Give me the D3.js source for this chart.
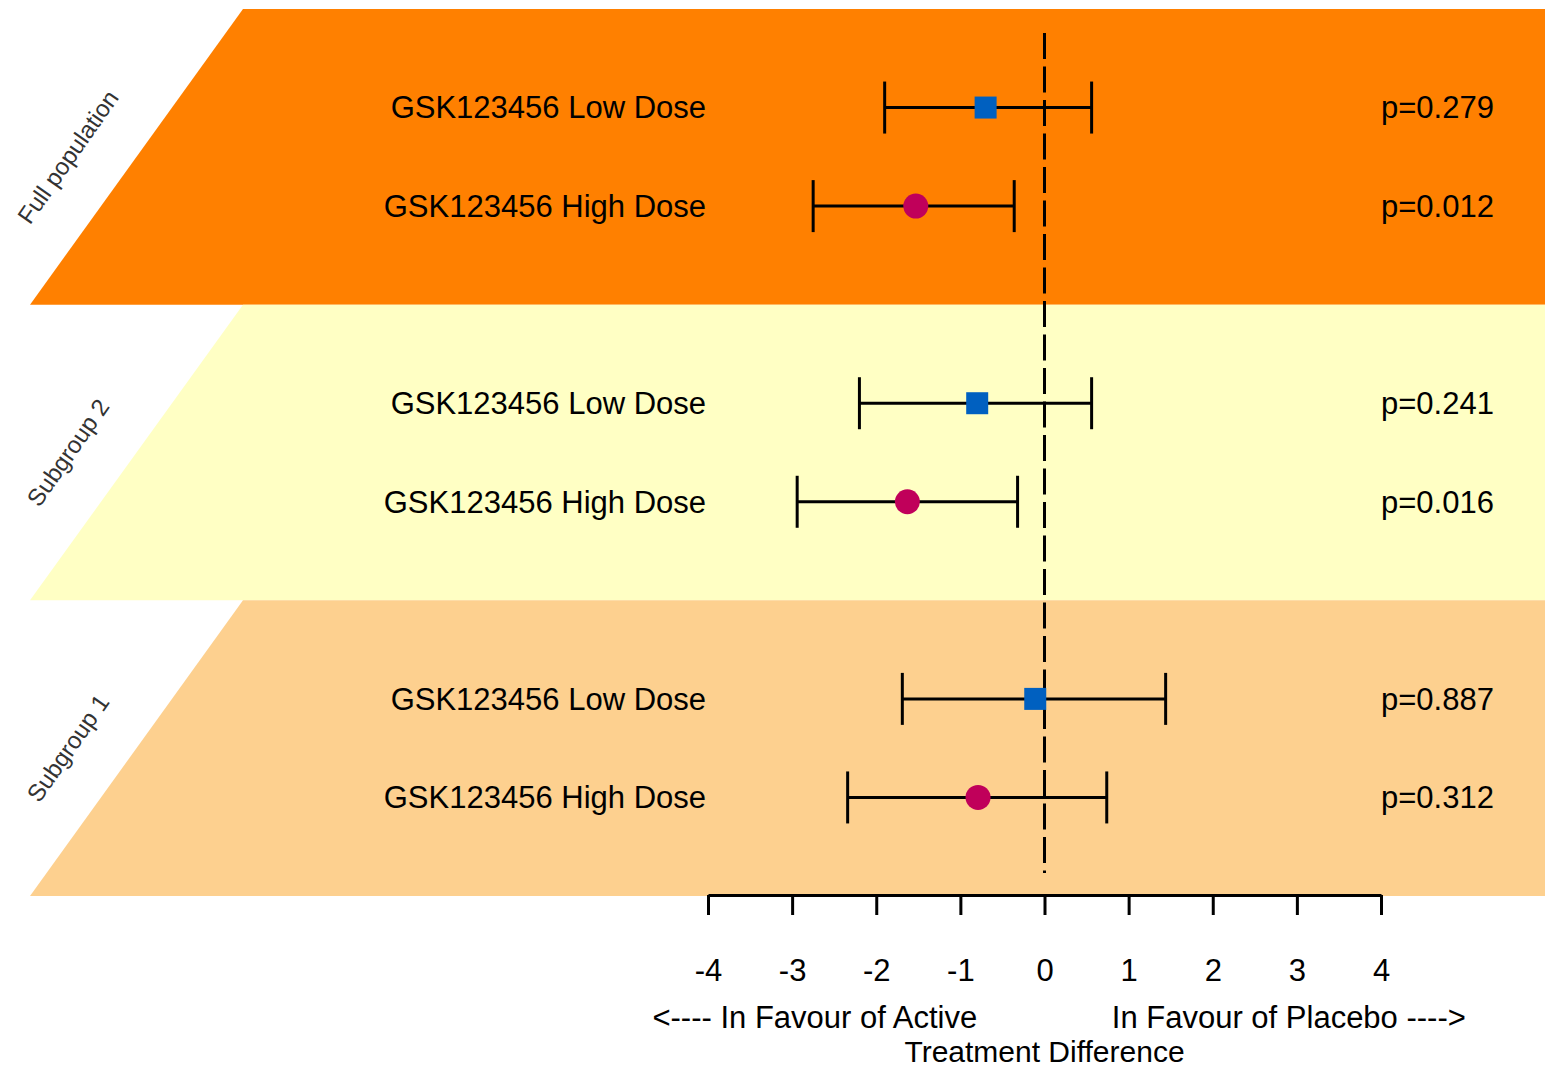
<!DOCTYPE html>
<html>
<head>
<meta charset="utf-8">
<script src="https://cdn.jsdelivr.net/npm/d3@7"></script>
<style>
  body { margin: 0; background: #fff; }
  text { font-family: "Liberation Sans", Arial, sans-serif; }
</style>
</head>
<body>
<div id="chart"></div>
<script>
// Data
var groups = ["Full population", "Subgroup 2", "Subgroup 1"];
var treatments = ["GSK123456 Low Dose", "GSK123456 High Dose"];
var groupColors = ["#FF8000", "#FFFFC4", "#FDD08F"];

// one entry per group x treatment, in the order above
var estimate = [-0.70, -1.53, -0.80, -1.63, -0.11, -0.79];
var lower    = [-1.90, -2.75, -2.20, -2.94, -1.69, -2.34];
var upper    = [ 0.56, -0.36,  0.56, -0.32,  1.44,  0.74];
var pValues  = ["p=0.279", "p=0.012", "p=0.241", "p=0.016", "p=0.887", "p=0.312"];

var tickValues = [-4, -3, -2, -1, 0, 1, 2, 3, 4];

var width = 1545, height = 1067;

var svg = d3.select("#chart").append("svg")
    .attr("width", width)
    .attr("height", height);

var x = d3.scaleLinear().domain([-4, 4]).range([708, 1381]);
var y = d3.scaleBand().domain(groups).range([9, 896]);
var slant = 213; // horizontal shift of the band's left edge over its height

// rows
var rows = [];
groups.forEach(function(g, gi) {
    treatments.forEach(function(t, ti) {
        var k = gi * treatments.length + ti;
        rows.push({
            group: g, treatment: t, type: ti,
            est: estimate[k], lo: lower[k], hi: upper[k], p: pValues[k],
            y: y(g) + y.bandwidth() * (ti + 1) / (treatments.length + 1)
        });
    });
});

// Group bands (parallelograms on the left)
var band = svg.append("g").selectAll("g")
    .data(groups)
  .enter().append("g");

band.append("path")
    .attr("d", function(d) {
        var top = y(d), bot = y(d) + y.bandwidth();
        return "M" + (30 + slant) + "," + top + "L" + width + "," + top +
               "L" + width + "," + bot + "L30," + bot + "Z";
    })
    .style("fill", function(d, i) { return groupColors[i]; });

band.append("text")
    .attr("transform", function(d) {
        return "translate(68," + (y(d) + y.bandwidth() / 2) + ") rotate(-55)";
    })
    .attr("text-anchor", "middle")
    .attr("dy", "0.35em")
    .style("font-size", "24px")
    .style("fill", "#333")
    .text(function(d) { return d; });

// Reference line at zero
svg.append("line")
    .attr("x1", x(0)).attr("x2", x(0))
    .attr("y1", 33).attr("y2", 873)
    .style("stroke", "#000")
    .style("stroke-width", 3)
    .style("stroke-dasharray", "26,7.5");

// Error bars
var row = svg.append("g").selectAll("g")
    .data(rows)
  .enter().append("g");

row.append("line")
    .attr("x1", function(d) { return x(d.lo); })
    .attr("x2", function(d) { return x(d.hi); })
    .attr("y1", function(d) { return d.y; })
    .attr("y2", function(d) { return d.y; })
    .style("stroke", "#000").style("stroke-width", 3);

row.selectAll(".cap")
    .data(function(d) { return [{v: d.lo, y: d.y}, {v: d.hi, y: d.y}]; })
  .enter().append("line")
    .attr("class", "cap")
    .attr("x1", function(d) { return x(d.v); })
    .attr("x2", function(d) { return x(d.v); })
    .attr("y1", function(d) { return d.y - 26; })
    .attr("y2", function(d) { return d.y + 26; })
    .style("stroke", "#000").style("stroke-width", 3);

row.filter(function(d) { return d.type === 0; }).append("rect")
    .attr("x", function(d) { return x(d.est) - 11; })
    .attr("y", function(d) { return d.y - 11; })
    .attr("width", 22).attr("height", 22)
    .style("fill", "#0060C0");

row.filter(function(d) { return d.type === 1; }).append("circle")
    .attr("cx", function(d) { return x(d.est); })
    .attr("cy", function(d) { return d.y; })
    .attr("r", 12.5)
    .style("fill", "#C0005A");

row.append("text")
    .attr("x", 706)
    .attr("y", function(d) { return d.y; })
    .attr("dy", "0.35em")
    .attr("text-anchor", "end")
    .style("font-size", "31px")
    .text(function(d) { return d.treatment; });

row.append("text")
    .attr("x", x(4))
    .attr("y", function(d) { return d.y; })
    .attr("dy", "0.35em")
    .style("font-size", "31px")
    .text(function(d) { return d.p; });

// Axis
var axis = svg.append("g")
    .attr("transform", "translate(0,895)")
    .call(d3.axisBottom(x)
        .tickValues(tickValues)
        .tickSize(20)
        .tickSizeOuter(0)
        .tickFormat(function(d) { return String(d); }));

axis.select(".domain").style("stroke-width", 3);
axis.selectAll(".tick line").style("stroke-width", 3);
axis.selectAll(".tick text")
    .attr("y", 75)
    .attr("dy", "0.35em")
    .style("font-size", "31px")
    .style("font-family", "'Liberation Sans', Arial, sans-serif")
    .style("fill", "#000");

svg.append("text")
    .attr("x", x(-0.8)).attr("y", 1017).attr("dy", "0.35em")
    .attr("text-anchor", "end")
    .style("font-size", "31px")
    .text("<---- In Favour of Active");

svg.append("text")
    .attr("x", x(0.8)).attr("y", 1017).attr("dy", "0.35em")
    .style("font-size", "31px")
    .text("In Favour of Placebo ---->");

svg.append("text")
    .attr("x", x(0)).attr("y", 1051).attr("dy", "0.35em")
    .attr("text-anchor", "middle")
    .style("font-size", "30px")
    .text("Treatment Difference");
</script>
</body>
</html>
